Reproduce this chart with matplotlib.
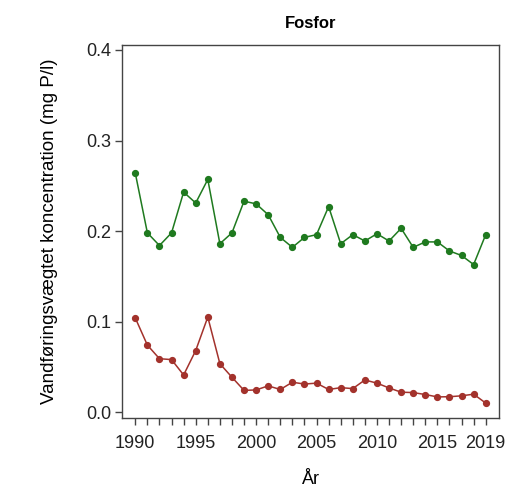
import matplotlib.pyplot as plt

# Data
years = list(range(1990, 2020))
green_vals = [0.264, 0.198, 0.184, 0.198, 0.243, 0.231, 0.257, 0.186, 0.198, 0.233,
              0.230, 0.218, 0.193, 0.182, 0.193, 0.196, 0.227, 0.186, 0.196, 0.189,
              0.197, 0.189, 0.203, 0.182, 0.188, 0.188, 0.178, 0.173, 0.163, 0.196]
red_vals = [0.104, 0.074, 0.059, 0.058, 0.041, 0.068, 0.105, 0.0535, 0.0385, 0.024,
            0.0245, 0.029, 0.025, 0.033, 0.031, 0.032, 0.025, 0.027, 0.026, 0.0355,
            0.032, 0.0267, 0.022, 0.0216, 0.0194, 0.0168, 0.017, 0.018, 0.0198, 0.010]
x_labels = [1990, 1995, 2000, 2005, 2010, 2015, 2019]
y_ticks = [0.0, 0.1, 0.2, 0.3, 0.4]

plt.rcParams['font.family'] = ['Liberation Sans', 'DejaVu Sans']

fig = plt.figure(figsize=(5.32, 4.91), dpi=100)
ax = fig.add_axes([122 / 532, 1 - 418 / 491, 377 / 532, 373 / 491])

ax.plot(years, green_vals, color='#1f7a1f', lw=1.1, marker='o', markersize=4.2)
ax.plot(years, red_vals, color='#a3322c', lw=1.1, marker='o', markersize=4.2)

ax.set_xlim(1988.9, 2020.1)
ax.set_ylim(-0.0065, 0.4055)

ax.set_xticks(years)
ax.set_xticklabels([str(y) if y in x_labels else '' for y in years])
ax.set_yticks(y_ticks)
ax.set_yticklabels([f'{v:.1f}' for v in y_ticks])

for s in ax.spines.values():
    s.set_color('#444444')
    s.set_linewidth(1.0)
ax.tick_params(axis='both', direction='out', length=5, width=1.0, color='#444444',
               labelsize=13, labelcolor='#222222')
ax.tick_params(axis='x', pad=7)
ax.tick_params(axis='y', pad=3)

ax.set_title('Fosfor', fontsize=12, fontweight='bold', pad=12)
ax.set_xlabel('År', fontsize=13, labelpad=14)
ax.set_ylabel('Vandføringsvægtet koncentration (mg P/l)', fontsize=13.5, labelpad=20)

fig.savefig('out.png', dpi=100)
